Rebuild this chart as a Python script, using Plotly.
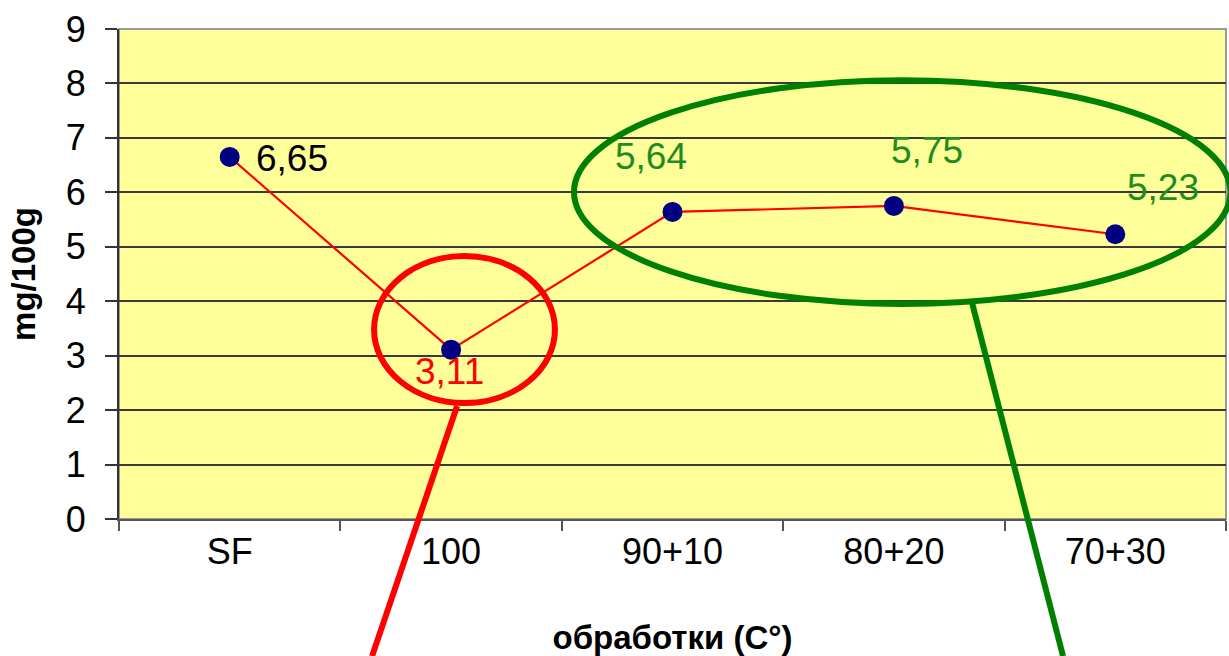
import plotly.graph_objects as go

# Treatment variants and measured content (mg/100g)
categories = ["SF", "100", "90+10", "80+20", "70+30"]
values = [6.65, 3.11, 5.64, 5.75, 5.23]
value_labels = ["6,65", "3,11", "5,64", "5,75", "5,23"]
label_colors = ["#000000", "#FF0000", "#1E8C1E", "#1E8C1E", "#1E8C1E"]
# label offsets in pixels relative to each point (x, y-up)
label_shifts = [(62, -2), (-2, -22), (-22, 55), (33, 55), (48, 47)]

y_max = 9
n_cat = len(categories)

FONT = "Liberation Sans, Arial, sans-serif"


def to_paper(xc, yv):
    """Convert (category index, value) to paper fractions."""
    return (xc + 0.5) / n_cat, yv / y_max


fig = go.Figure()
fig.add_trace(go.Scatter(
    x=categories, y=values, mode="lines+markers",
    line=dict(color="#FF0000", width=2.2),
    marker=dict(color="#000080", size=20),
    showlegend=False, hoverinfo="skip",
))

# value labels; x given as category index so "100" is not read as a number
for i, (v, txt, col, (dx, dy)) in enumerate(
        zip(values, value_labels, label_colors, label_shifts)):
    fig.add_annotation(
        x=i, y=v, xref="x", yref="y", text=txt, showarrow=False,
        xshift=dx, yshift=dy,
        font=dict(family=FONT, size=37, color=col),
    )

shapes = []
# plot frame (top/right visible, grey)
shapes.append(dict(type="rect", xref="paper", yref="paper", x0=0, x1=1, y0=0, y1=1,
                   line=dict(color="#9A9A9A", width=2), layer="between"))

# highlight around the minimum value
rx0, ry0 = to_paper(0.652, 2.13)
rx1, ry1 = to_paper(1.469, 4.83)
shapes.append(dict(type="circle", xref="paper", yref="paper",
                   x0=rx0, x1=rx1, y0=ry0, y1=ry1,
                   line=dict(color="#FF0000", width=6), layer="above"))
lx0, ly0 = to_paper(1.027, 2.076)
lx1, ly1 = to_paper(0.643, -2.52)
shapes.append(dict(type="line", xref="paper", yref="paper",
                   x0=lx0, y0=ly0, x1=lx1, y1=ly1,
                   line=dict(color="#FF0000", width=6), layer="above"))

# highlight around the mixed treatments
gx0, gy0 = to_paper(1.555, 3.95)
gx1, gy1 = to_paper(4.52, 8.06)
shapes.append(dict(type="circle", xref="paper", yref="paper",
                   x0=gx0, x1=gx1, y0=gy0, y1=gy1,
                   line=dict(color="#008000", width=6), layer="above"))
kx0, ky0 = to_paper(3.353, 3.97)
kx1, ky1 = to_paper(3.764, -2.52)
shapes.append(dict(type="line", xref="paper", yref="paper",
                   x0=kx0, y0=ky0, x1=kx1, y1=ky1,
                   line=dict(color="#008000", width=6), layer="above"))

fig.update_layout(
    width=1229, height=656,
    margin=dict(l=119, r=3, t=29, b=137),
    paper_bgcolor="white",
    plot_bgcolor="#FFFF99",
    font=dict(family=FONT, color="#000000"),
    shapes=shapes,
    xaxis=dict(
        type="category", range=[-0.5, n_cat - 0.5],
        automargin=False,
        showline=True, linecolor="#555555", linewidth=2,
        ticks="outside", tickson="boundaries", ticklen=10, tickcolor="#555555", tickwidth=2,
        showgrid=False,
        tickfont=dict(size=36, family=FONT),
        title=dict(text="<b>обработки (C°)</b>", font=dict(size=33, family=FONT), standoff=63),
    ),
    yaxis=dict(
        range=[0, y_max], dtick=1, tick0=0,
        automargin=False,
        showline=True, linecolor="#333333", linewidth=2,
        ticks="outside", ticklen=12, tickcolor="#333333", tickwidth=2,
        showgrid=True, gridcolor="#3A3A3A", gridwidth=2,
        zeroline=False,
        tickfont=dict(size=36, family=FONT),
        ticklabelstandoff=12,
        title=dict(text="<b>mg/100g</b>", font=dict(size=33, family=FONT), standoff=20),
    ),
)

fig.write_html("out.html")
